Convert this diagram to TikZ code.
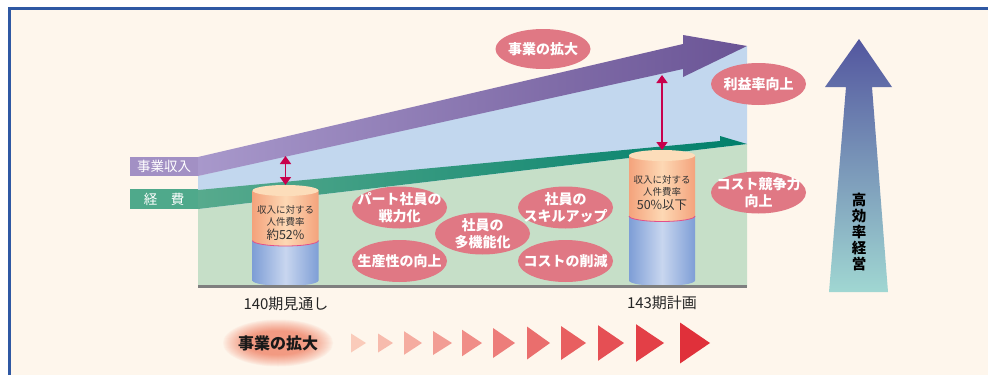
\documentclass[tikz,border=0pt]{standalone}
\usepackage{fontspec}
\setmainfont{Noto Sans CJK JP}
\usetikzlibrary{shapes.geometric,arrows.meta}

\definecolor{cream}{HTML}{FEF6EC}
\definecolor{framec}{HTML}{2F58A3}
\definecolor{revlabel}{HTML}{A290C4}
\definecolor{revlo}{HTML}{A898CB}
\definecolor{revhi}{HTML}{6A5495}
\definecolor{costlabel}{HTML}{4FA98B}
\definecolor{costlo}{HTML}{57AA8D}
\definecolor{costhi}{HTML}{007F6B}
\definecolor{bluearea}{HTML}{C2D7EE}
\definecolor{greenarea}{HTML}{C6DFC8}
\definecolor{pinkc}{HTML}{E07884}
\definecolor{gapc}{HTML}{C8004C}
\definecolor{orlo}{HTML}{F4A37C}
\definecolor{orhi}{HTML}{FDD8B4}
\definecolor{ortop}{HTML}{FCDDBA}
\definecolor{splitc}{HTML}{E2508A}
\definecolor{cyllo}{HTML}{7E9ED6}
\definecolor{cylhi}{HTML}{C8D6EF}
\definecolor{trilo}{HTML}{FACBBA}
\definecolor{trihi}{HTML}{E0303A}
\definecolor{glowc}{HTML}{F29A82}
\definecolor{effhi}{HTML}{53569F}
\definecolor{efflo}{HTML}{A0D7D2}
\definecolor{basec}{HTML}{7F7F7F}

\begin{document}
\begin{tikzpicture}[x=1pt,y=-1pt,
    pill/.style={ellipse,fill=pinkc,text=white,align=center,
      font=\bfseries\fontsize{14}{17}\selectfont,
      minimum width=95pt,minimum height=42pt,inner xsep=-10pt,inner ysep=-3pt},
    tag/.style={rectangle,text=white,minimum width=68pt,minimum height=19.5pt,
      inner sep=0pt,font=\fontsize{13.5}{16}\selectfont},
    ratio/.style={align=center,text=black!80,font=\fontsize{9.5}{12.5}\selectfont},
    period/.style={text=black!85,font=\fontsize{15}{17}\selectfont},
    gap/.style={gapc,line width=1.7pt,{Triangle[width=11pt,length=8pt]}-{Triangle[width=11pt,length=8pt]}}]
\useasboundingbox (0,0) rectangle (988,375);

% Frame
\fill[white] (0,0) rectangle (988,375);
\fill[cream] (9.5,8.5) rectangle (988,375);
\draw[framec,line width=2.6pt] (9.5,375) -- (9.5,8.5) -- (988,8.5);

% Areas
\fill[greenarea] (198,209) -- (747,144) -- (747,287) -- (198,287) -- cycle;
\fill[bluearea] (198,176) -- (747,46) -- (747,144) -- (198,209) -- cycle;

% Bands
\shade[left color=revlo,right color=revhi] (198,157) -- (683,44) -- (683,35) -- (747,46)
  -- (683,77) -- (683,69) -- (198,176) -- cycle;
\shade[left color=costlo,right color=costhi] (198,190) -- (720,141) -- (720,136) -- (747,144)
  -- (198,209) -- cycle;
\node[tag,fill=revlabel] (rev) at (164,166.5) {事業収入};
\node[tag,fill=costlabel] (cost) at (164,199) {経　費};

% Cylinders
\foreach \cx/\yt/\ys/\yb in {285.5/190.5/240.5/280.5, 662/155.5/216/280.5}{
  \shade[left color=cyllo,right color=cyllo,middle color=cylhi] (\cx-33,\ys) -- (\cx-33,\yb)
    arc[start angle=180,end angle=0,x radius=33,y radius=5.5] -- (\cx+33,\ys) -- cycle;
  \shade[left color=orlo,right color=orlo,middle color=orhi] (\cx-33,\yt) -- (\cx-33,\ys)
    arc[start angle=180,end angle=0,x radius=33,y radius=5.5] -- (\cx+33,\yt) -- cycle;
  \fill[ortop] (\cx,\yt) ellipse[x radius=33,y radius=5.5];
  \draw[splitc,line width=0.8pt] (\cx-33,\ys) arc[start angle=180,end angle=0,x radius=33,y radius=5.5];
}
\draw[basec,line width=2.2pt] (198,286.5) -- (747,286.5);
\coordinate (c1top) at (285.5,185);
\coordinate (c2top) at (662,150);

\node[ratio] (r1) at (285.5,223) {収入に対する\\人件費率\\[1pt]{\fontsize{12.5}{15}\selectfont 約52\%}};
\node[ratio] (r2) at (662,193) {収入に対する\\人件費率\\[1pt]{\fontsize{12.5}{15}\selectfont 50\%以下}};

% Gaps
\coordinate (g1) at (285.5,156);
\coordinate (g2) at (662,75);
\draw[gap] (g1) -- (c1top);
\draw[gap] (g2) -- (c2top);

% Measures
\node[pill,minimum height=40pt] (expand) at (543,49) {事業の拡大};
\node[pill] (profit) at (758.5,84) {利益率向上};
\node[pill] (compete) at (758.5,192.5) {コスト競争力\\向上};
\node[pill] (part) at (399.5,207.5) {パート社員の\\戦力化};
\node[pill] (prod) at (399.5,261) {生産性の向上};
\node[pill] (multi) at (482.5,233.5) {社員の\\多機能化};
\node[pill] (skill) at (565.5,207.5) {社員の\\スキルアップ};
\node[pill] (cut) at (565.5,261) {コストの削減};

% Periods
\node[period] (p140) at (286,304) {140期見通し};
\node[period] (p143) at (662,303) {143期計画};

% Efficiency arrow
\shade[top color=effhi,bottom color=efflo] (829,292) -- (846,87) -- (825,87) -- (859,39)
  -- (892,87) -- (872,87) -- (888,292) -- cycle;
\node[align=center,font=\bfseries\fontsize{14.5}{16}\selectfont] (eff) at (859,232) {高\\効\\率\\経\\営};

% Growth
\foreach \k in {0,...,24}{
  \pgfmathsetmacro\t{\k/24}
  \pgfmathtruncatemacro\q{100*\t^0.8}
  \fill[glowc!\q!cream] (278,343) ellipse[x radius={56-24*\t},y radius={24-12*\t}];
}
\node[font=\bfseries\fontsize{16}{18}\selectfont,text=black!90] (growth) at (278,343) {事業の拡大};
\foreach \xl/\xr/\hh [count=\i from 0] in {351/366/9.5, 378/393/9.5, 404/422/11.8, 433/452/12,
    462/482/13.3, 493/515/15, 527/550/16.5, 561/586/17, 598/624/17.8, 636/664/18.8, 680/710/20.5}{
  \pgfmathtruncatemacro\p{\i*10}
  \fill[trihi!\p!trilo] (\xl,343-\hh) -- (\xr,343) -- (\xl,343+\hh) -- cycle;
}
\end{tikzpicture}
\end{document}
